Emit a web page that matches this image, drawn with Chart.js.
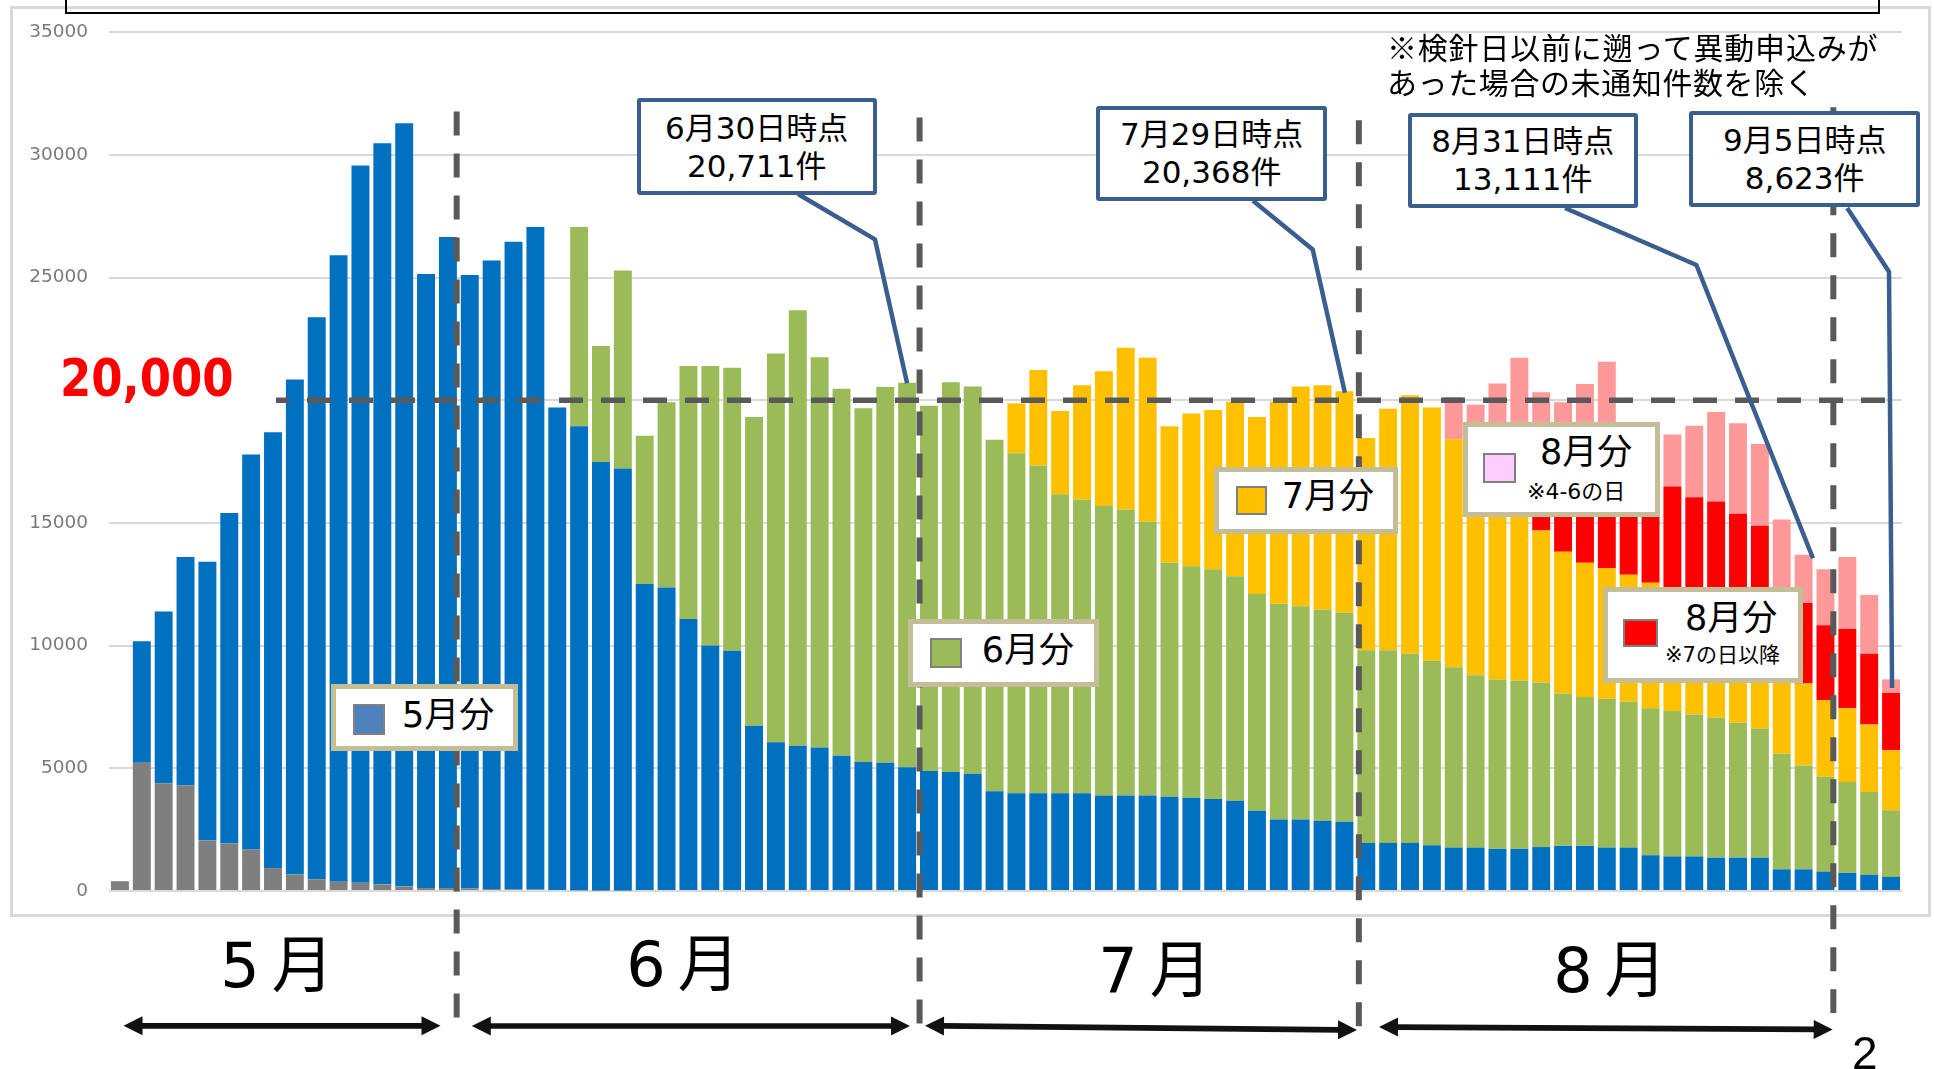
<!DOCTYPE html>
<html><head><meta charset="utf-8">
<script src="https://cdn.jsdelivr.net/npm/chart.js@4.4.0/dist/chart.umd.min.js"></script>
<style>
html,body{margin:0;padding:0;background:#fff;width:1934px;height:1069px;overflow:hidden;}
#wrap{position:relative;width:1934px;height:1069px;}
.abs{position:absolute;box-sizing:border-box;}
#frame{left:10px;top:6px;width:1921px;height:911px;border:3px solid #d9d9d9;z-index:0;}
#topbox{left:65px;top:-60px;width:1815px;height:73.5px;border:2.7px solid #000;z-index:3;}
#c{position:absolute;left:0;top:0;z-index:1;}
.callout{position:absolute;box-sizing:border-box;border:4.5px solid #3A5F8F;border-radius:3px;background:#fff;
  font-family:"DejaVu Sans","Noto Sans CJK JP";font-size:31px;line-height:38px;color:#000;text-align:center;
  display:flex;flex-direction:column;justify-content:center;z-index:3;white-space:nowrap;}
.legend{position:absolute;box-sizing:border-box;border:5px solid #C4BD97;background:#fff;z-index:3;}
.sw{position:absolute;box-sizing:border-box;border:2px solid #808080;z-index:4;}
.t{position:absolute;font-family:"DejaVu Sans","Noto Sans CJK JP";color:#000;white-space:nowrap;z-index:4;}
.month{position:absolute;width:240px;text-align:center;font-family:"DejaVu Sans","Noto Sans CJK JP";font-size:62px;line-height:80px;color:#000;z-index:4;}
#big{position:absolute;left:20px;top:345px;width:255px;height:68px;background:#fff;z-index:3;}
</style></head>
<body><div id="wrap">
<div id="frame" class="abs"></div>
<div id="topbox" class="abs"></div>
<canvas id="c" width="1934" height="1069"></canvas>

<div class="t" style="left:1387px;top:29px;font-family:'Noto Sans CJK JP';font-size:30px;line-height:35px;letter-spacing:0.8px;">※検針日以前に遡って異動申込みが</div>
<div class="t" style="left:1387px;top:64px;font-family:'Noto Sans CJK JP';font-size:30px;line-height:35px;letter-spacing:0.6px;">あった場合の未通知件数を除く</div>

<div class="callout" style="left:636.7px;top:98.3px;width:240px;height:96.7px;"><div>6月30日時点</div><div>20,711件</div></div>
<div class="callout" style="left:1096px;top:105.6px;width:231.3px;height:95.1px;"><div>7月29日時点</div><div>20,368件</div></div>
<div class="callout" style="left:1407.6px;top:112.7px;width:230.4px;height:95.6px;"><div>8月31日時点</div><div>13,111件</div></div>
<div class="callout" style="left:1689.4px;top:110.7px;width:230.6px;height:96px;"><div>9月5日時点</div><div>8,623件</div></div>

<div id="big"><div class="t" style="left:40px;top:3.5px;font-family:'DejaVu Sans';font-weight:bold;font-size:45px;line-height:60px;color:#FF0000;transform:scaleY(1.15);transform-origin:50% 50%;">20,000</div></div>

<div class="legend" style="left:331px;top:683.7px;width:187px;height:67.3px;"></div>
<div class="sw" style="left:353px;top:704px;width:32px;height:31px;background:#4F81BD;"></div>
<div class="t" style="left:402px;top:693px;font-size:35px;line-height:44px;">5月分</div>

<div class="legend" style="left:908px;top:619px;width:191px;height:68px;"></div>
<div class="sw" style="left:930px;top:638px;width:32px;height:30px;background:#9BBB59;"></div>
<div class="t" style="left:981.7px;top:628px;font-size:35px;line-height:44px;">6月分</div>

<div class="legend" style="left:1214px;top:466.5px;width:184px;height:67.5px;"></div>
<div class="sw" style="left:1236px;top:486px;width:31px;height:29px;background:#FFC000;"></div>
<div class="t" style="left:1281.7px;top:474px;font-size:35px;line-height:44px;">7月分</div>

<div class="legend" style="left:1463.3px;top:421.7px;width:196.7px;height:95.6px;"></div>
<div class="sw" style="left:1482.7px;top:453.3px;width:33.3px;height:30px;background:#FFCCFF;"></div>
<div class="t" style="left:1540px;top:429.5px;font-size:35px;line-height:44px;">8月分</div>
<div class="t" style="left:1527px;top:478.5px;font-size:22px;line-height:26px;">※4-6の日</div>

<div class="legend" style="left:1603.3px;top:586.7px;width:200px;height:96.6px;"></div>
<div class="sw" style="left:1622.7px;top:619.3px;width:35.6px;height:28px;background:#FF0000;"></div>
<div class="t" style="left:1685px;top:596px;font-size:35px;line-height:44px;">8月分</div>
<div class="t" style="left:1665px;top:642px;font-size:21px;line-height:26px;">※7の日以降</div>

<div class="month" style="left:157px;top:926px;"><span style="margin-right:12px">5</span>月</div>
<div class="month" style="left:563px;top:925px;"><span style="margin-right:12px">6</span>月</div>
<div class="month" style="left:1035px;top:931px;"><span style="margin-right:12px">7</span>月</div>
<div class="month" style="left:1490px;top:931px;"><span style="margin-right:12px">8</span>月</div>

<div class="t" style="left:1852px;top:1028px;font-family:'Liberation Sans';font-size:46px;line-height:50px;">2</div>
</div>

<script>
// ---- data ----
const labels = [
 '5/11','5/12','5/13','5/16','5/17','5/18','5/19','5/20','5/23','5/24','5/25','5/26','5/27','5/30','5/31',
 '6/1','6/2','6/3','6/6','6/7','6/8','6/9','6/10','6/13','6/14','6/15','6/16','6/17','6/20','6/21','6/22','6/23','6/24','6/27','6/28','6/29','6/30',
 '7/1','7/4','7/5','7/6','7/7','7/8','7/11','7/12','7/13','7/14','7/15','7/19','7/20','7/21','7/22','7/25','7/26','7/27','7/28','7/29',
 '8/1','8/2','8/3','8/4','8/5','8/8','8/9','8/10','8/12','8/15','8/16','8/17','8/18','8/19','8/22','8/23','8/24','8/25','8/26','8/29','8/30','8/31',
 '9/1','9/2','9/5'
];
const olderValues = [400,5230,4394,4298,2054,1934,1695,931,669,478,382,334,270,190,120,120,100,80,60,60,40,30,20,20,
 0,0,0,0,0,0,0,0,0,0,0,0,0,0,0,0,0,0,0,0,0,0,0,0,0,0,0,0,0,0,0,0,0,0,0,0,0,0,0,0,0,0,0,0,0,0,0,0,0,0,0,0,0,0,0,0,0,0];
const mayValues = [0,4943,6997,9314,11367,13469,16096,17767,20178,22901,25528,29229,30201,31093,25026,26530,24998,25615,26399,26996,
 19661,18907,17460,17197,12513,12370,11080,10006,9791,6734,
 6066,5922,5851,5516,5254,5230,5039,4895,4848,4776,
 4060,3988,3988,3988,3988,3892,3892,3892,3845,3797,
 3749,3678,3272,2913,2913,2866,2818,1958,1958,1958,
 1863,1767,1767,1719,1719,1791,1839,1839,1767,1767,
 1457,1409,1409,1361,1361,1361,884,884,788,740,
 669,573];
const juneValues = [0,0,0,0,0,0,0,0,0,0,0,0,0,0,0,0,0,0,0,0,0,
 8119,4728,8072,6042,7546,10316,11390,11534,12585,15832,17743,15904,14949,14423,15307,15672,
 14878,15880,15785,14328,13850,13349,12179,11964,11797,11654,11152,9528,9433,9361,9146,8835,8788,8693,8596,8525,
 7857,7857,7713,7522,7355,7021,6902,6854,6710,6209,6065,6066,5946,5994,5922,5779,5707,5493,5254,4704,4226,3869,
 3702,3367,2722];
const julyValues = [0,0,0,0,0,0,0,0,0,0,0,0,0,0,0,0,0,0,0,0,0,0,0,0,0,0,0,0,0,0,0,0,0,0,0,0,0,0,0,0,0,
 2030,3892,3391,4656,5493,6591,6687,5564,6232,6495,7116,7212,8239,8955,9146,9025,
 8644,9838,10531,10316,9289,9412,9079,7727,6185,5779,5469,5325,5176,5112,4769,4412,4032,3646,3285,3612,3343,3128,
 3009,2746,2436];
const augLateValues = [0,0,0,0,0,0,0,0,0,0,0,0,0,0,0,0,0,0,0,0,0,0,0,0,0,0,0,0,0,0,0,0,0,0,0,0,0,0,0,0,0,0,0,0,0,0,0,0,0,0,0,0,0,0,0,0,0,0,0,0,0,0,0,
 900,2600,3514,3873,5027,5742,4011,4037,4383,4447,4773,4870,4980,3000,3280,3041,
 3223,2889,2340];
const augEarlyValues = [0,0,0,0,0,0,0,0,0,0,0,0,0,0,0,0,0,0,0,0,0,0,0,0,0,0,0,0,0,0,0,0,0,0,0,0,0,0,0,0,0,0,0,0,0,0,0,0,0,0,0,0,0,0,0,0,0,0,0,0,0,
 1720,1620,2080,2831,2122,2216,2256,2664,2000,2100,2117,2914,3649,3690,3338,2940,1970,2285,
 2938,2388,552];
const yTickMax = 35000, yTickStep = 5000;
const targetLine = 20000;

// ---- layout (decoration only) ----
const monthLines = [
  {pos: 15.4,  top: 111.5, bottom: 1018},
  {pos: 36.57, top: 117.4, bottom: 1024},
  {pos: 56.66, top: 120.3, bottom: 1030},
  {pos: 78.36, top: 107.3, bottom: 1013}
];
const pointers = [
  {label: '6/30', sx: 798,    sy: 194,   mx: 875,    my: 239.4, dx: 0,     dy: 0.5},
  {label: '7/29', sx: 1253,   sy: 200.7, mx: 1312.7, my: 249.4, dx: 0.5,   dy: 1.5},
  {label: '8/31', sx: 1565,   sy: 208,   mx: 1696.4, my: 265,   dx: -12.5, dy: -11},
  {label: '9/5',  sx: 1847.2, sy: 208,   mx: 1889,   my: 271.7, dx: 1,     dy: 8.7}
];
const arrows = [
  [123.5, 1025.8, 440.5, 1025.8],
  [471.8, 1026, 910, 1026],
  [925, 1025.7, 1357, 1030],
  [1379, 1027, 1832.7, 1029.5]
];

const series = [olderValues, mayValues, juneValues, julyValues, augLateValues, augEarlyValues];
const totals = labels.map((_, i) => series.reduce((s, a) => s + a[i], 0));

function drawArrow(ctx, x1, y1, x2, y2) {
  const a = Math.atan2(y2 - y1, x2 - x1), c = Math.cos(a), s = Math.sin(a);
  const L = 19, W = 9.5;
  ctx.lineWidth = 5.7; ctx.strokeStyle = '#111'; ctx.fillStyle = '#111';
  ctx.beginPath(); ctx.moveTo(x1 + c * (L - 2), y1 + s * (L - 2)); ctx.lineTo(x2 - c * (L - 2), y2 - s * (L - 2)); ctx.stroke();
  const head = (px, py, dir) => {
    ctx.beginPath();
    ctx.moveTo(px, py);
    ctx.lineTo(px - dir * c * L - s * W, py - dir * s * L + c * W);
    ctx.lineTo(px - dir * c * L + s * W, py - dir * s * L - c * W);
    ctx.closePath(); ctx.fill();
  };
  head(x2, y2, 1); head(x1, y1, -1);
}

const overlay = {
  id: 'overlay',
  afterDatasetsDraw(chart) {
    const {ctx, scales: {x, y}} = chart;
    ctx.save();
    ctx.strokeStyle = '#595959';
    ctx.setLineDash([24, 18]);
    ctx.lineWidth = 5.5; ctx.lineDashOffset = 11;
    const yT = y.getPixelForValue(targetLine);
    ctx.beginPath(); ctx.moveTo(276, yT); ctx.lineTo(1886, yT); ctx.stroke();
    ctx.lineWidth = 6; ctx.lineDashOffset = 0;
    monthLines.forEach(m => {
      const px = x.getPixelForValue(m.pos);
      ctx.beginPath(); ctx.moveTo(px, m.top); ctx.lineTo(px, m.bottom); ctx.stroke();
    });
    ctx.setLineDash([]);
    ctx.strokeStyle = '#3A5F8F'; ctx.lineWidth = 4.5; ctx.lineJoin = 'round';
    pointers.forEach(p => {
      const i = labels.indexOf(p.label);
      const ex = x.getPixelForValue(i) + p.dx, ey = y.getPixelForValue(totals[i]) + p.dy;
      ctx.beginPath(); ctx.moveTo(p.sx, p.sy); ctx.lineTo(p.mx, p.my); ctx.lineTo(ex, ey); ctx.stroke();
    });
    arrows.forEach(a => drawArrow(ctx, a[0], a[1], a[2], a[3]));
    ctx.restore();
  }
};

const colors = ['#7F7F7F', '#0070C0', '#9BBB59', '#FFC000', '#FF0000', '#FF9999'];
const names = ['それ以前', '5月分', '6月分', '7月分', '8月分（7の日以降）', '8月分（4-6の日）'];

new Chart(document.getElementById('c').getContext('2d'), {
  type: 'bar',
  data: {
    labels: labels,
    datasets: series.map((d, k) => ({
      label: names[k], data: d, backgroundColor: colors[k], borderWidth: 0,
      barPercentage: 0.82, categoryPercentage: 1.0
    }))
  },
  options: {
    responsive: false, animation: false, devicePixelRatio: 1,
    layout: {padding: {left: 0, right: 32, top: 31, bottom: 178}},
    plugins: {legend: {display: false}, tooltip: {enabled: false}, title: {display: false}},
    scales: {
      x: {stacked: true, display: false, grid: {display: false}},
      y: {
        stacked: true, min: 0, max: yTickMax,
        ticks: {stepSize: yTickStep, color: '#7a7a7a', padding: 21,
          font: {family: 'DejaVu Sans', size: 18.5}, callback: v => String(v)},
        grid: {color: '#d9d9d9', lineWidth: 2, drawTicks: false},
        border: {display: false},
        afterFit(s) { s.width = 109; }
      }
    }
  },
  plugins: [overlay]
});
</script>
</body></html>
